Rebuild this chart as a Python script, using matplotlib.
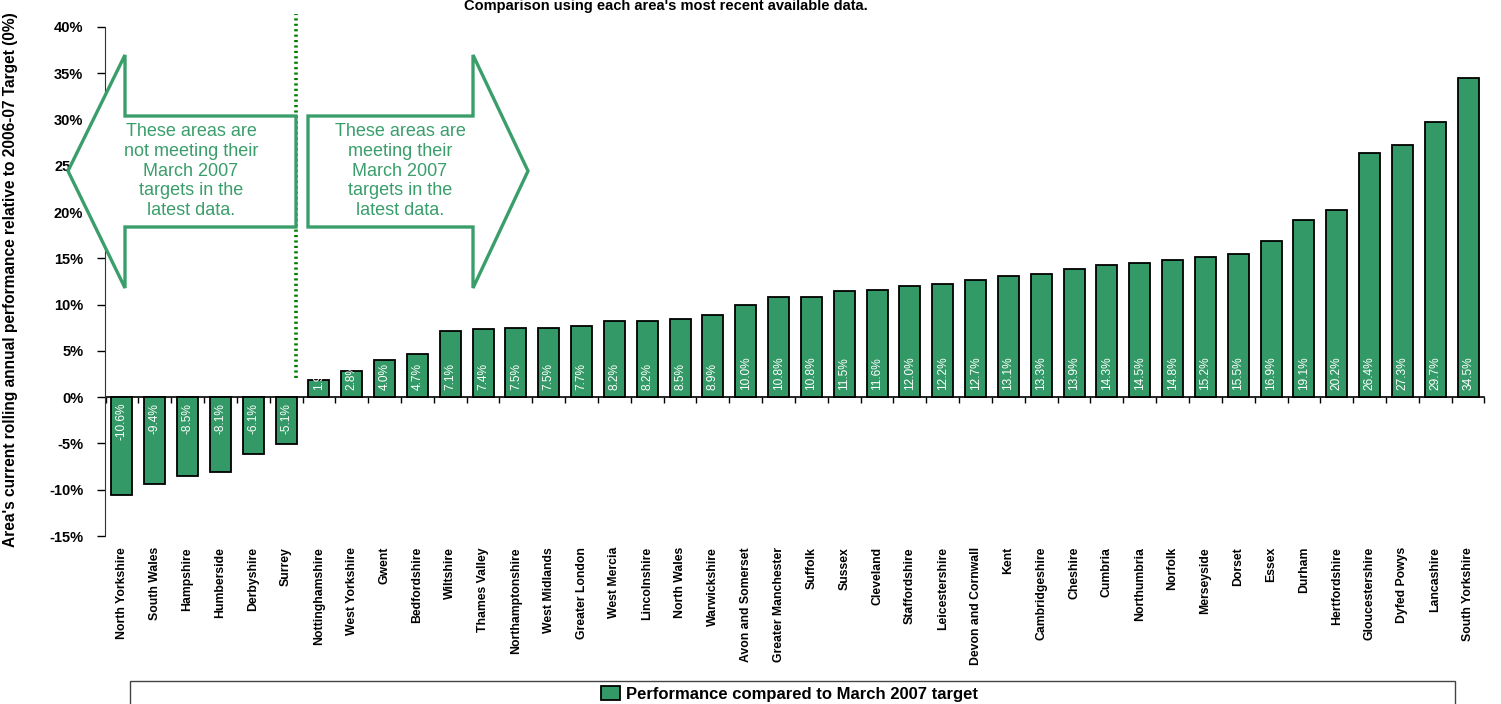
import matplotlib
matplotlib.use("Agg")
import matplotlib.pyplot as plt
from matplotlib.patches import Polygon, Rectangle
from matplotlib.ticker import FuncFormatter, MultipleLocator, FixedLocator

plt.rcParams['font.family'] = ['Liberation Sans', 'DejaVu Sans']

areas = ["North Yorkshire", "South Wales", "Hampshire", "Humberside", "Derbyshire", "Surrey",
         "Nottinghamshire", "West Yorkshire", "Gwent", "Bedfordshire", "Wiltshire", "Thames Valley",
         "Northamptonshire", "West Midlands", "Greater London", "West Mercia", "Lincolnshire",
         "North Wales", "Warwickshire", "Avon and Somerset", "Greater Manchester", "Suffolk",
         "Sussex", "Cleveland", "Staffordshire", "Leicestershire", "Devon and Cornwall", "Kent",
         "Cambridgeshire", "Cheshire", "Cumbria", "Northumbria", "Norfolk", "Merseyside", "Dorset",
         "Essex", "Durham", "Hertfordshire", "Gloucestershire", "Dyfed Powys", "Lancashire",
         "South Yorkshire"]
performance = [-10.6, -9.4, -8.5, -8.1, -6.1, -5.1,
               1.9, 2.8, 4.0, 4.7, 7.1, 7.4, 7.5, 7.5, 7.7, 8.2, 8.2, 8.5, 8.9, 10.0,
               10.8, 10.8, 11.5, 11.6, 12.0, 12.2, 12.7, 13.1, 13.3, 13.9, 14.3, 14.5,
               14.8, 15.2, 15.5, 16.9, 19.1, 20.2, 26.4, 27.3, 29.7, 34.5]
series_name = "Performance compared to March 2007 target"
title = "Comparison using each area's most recent available data."
ylabel = "Area's current rolling annual performance relative to 2006-07 Target (0%)"
left_note = "These areas are\nnot meeting their\nMarch 2007\ntargets in the\nlatest data."
right_note = "These areas are\nmeeting their\nMarch 2007\ntargets in the\nlatest data."

W, H = 1501, 704
BAR = '#339966'
ARROW = '#3a9e6b'

fig = plt.figure(figsize=(W / 100, H / 100), dpi=100)
ax_l, ax_r, ax_t, ax_b = 105.5, 1484.5, 27, 536
ax = fig.add_axes([ax_l / W, 1 - ax_b / H, (ax_r - ax_l) / W, (ax_b - ax_t) / H])

n = len(areas)
x = list(range(n))
bars = ax.bar(x, performance, width=0.64, color=BAR, edgecolor='black', linewidth=1.3,
              label=series_name, zorder=3)
ax.set_xlim(-0.5, n - 0.5)
ymin, ymax = -15, 40
ax.set_ylim(ymin, ymax)

# Bar value labels (inside base)
for xi, v in zip(x, performance):
    off = 5 if v >= 0 else -4
    ax.annotate(f"{v:.1f}%", (xi, 0), xytext=(0, off), textcoords='offset points',
                rotation=90, ha='center', va='bottom' if v >= 0 else 'top',
                color='white', fontsize=8.6, zorder=4)

# Y axis
ax.yaxis.set_major_locator(MultipleLocator(5))
ax.yaxis.set_major_formatter(FuncFormatter(lambda v, p: f"{v:.0f}%"))
ax.tick_params(axis='y', direction='out', length=6, width=1, pad=10, labelsize=10.5)
for lab in ax.get_yticklabels():
    lab.set_fontweight('bold')
ax.spines['left'].set_color('#333333')
for s in ['top', 'right', 'bottom']:
    ax.spines[s].set_visible(False)

# Category labels at bottom
ax.set_xticks(x)
ax.set_xticklabels(areas, rotation=90, fontsize=8.8, fontweight='bold')
ax.tick_params(axis='x', length=0, pad=8)

# Zero axis with ticks at category boundaries
sec = ax.secondary_xaxis((0 - ymin) / (ymax - ymin))
sec.xaxis.set_major_locator(FixedLocator([i - 0.5 for i in range(n + 1)]))
sec.tick_params(axis='x', direction='out', length=4, width=1, labelbottom=False, labeltop=False)
sec.xaxis.set_tick_params(which='both', top=False, bottom=True)
sec.spines['bottom'].set_color('black')
sec.spines['bottom'].set_linewidth(1.2)

ax.set_ylabel(ylabel, fontsize=11.2, fontweight='bold')
ax.yaxis.set_label_coords((18 - ax_l) / (ax_r - ax_l), 1 - (280 - ax_t) / (ax_b - ax_t))

# Dividing dotted line
ax.vlines(5.29, 2.05, 41.4, colors='#008000', linestyles=(0, (0.6, 0.9)), linewidth=2.6,
          clip_on=False, zorder=5)

# Arrows (figure pixel coords)
def fp(pts):
    return [(px / W, 1 - py / H) for px, py in pts]

left_arrow = [(68, 171), (125, 55), (125, 116), (296, 116), (296, 227), (125, 227), (125, 288)]
right_arrow = [(528, 171), (473, 55), (473, 116), (308, 116), (308, 227), (473, 227), (473, 288)]
for pts in (left_arrow, right_arrow):
    fig.add_artist(Polygon(fp(pts), closed=True, facecolor='white', edgecolor=ARROW,
                           linewidth=2.4, transform=fig.transFigure, zorder=6))

fig.text(191 / W, 1 - 171 / H, left_note, ha='center', va='center', color=ARROW,
         fontsize=13, linespacing=1.2, zorder=7)
fig.text(400 / W, 1 - 171 / H, right_note, ha='center', va='center', color=ARROW,
         fontsize=13, linespacing=1.2, zorder=7)

# Title
fig.text(666 / W, 1 - 10 / H, title, ha='center', va='baseline', fontsize=10.5, fontweight='bold')

# Legend box
fig.add_artist(Rectangle((130 / W, -0.05), (1455 - 130) / W, 0.05 + (704 - 681) / H,
                         facecolor='white', edgecolor='#444444', linewidth=1,
                         transform=fig.transFigure, zorder=1))
leg = fig.legend(handles=[bars], labels=[series_name], loc='center',
                 bbox_to_anchor=(790 / W, 1 - 694 / H), frameon=False,
                 prop={'weight': 'bold', 'size': 12}, handlelength=1.1, handleheight=0.9,
                 handletextpad=0.4)
leg.set_zorder(8)

fig.savefig("out.png", dpi=100)
